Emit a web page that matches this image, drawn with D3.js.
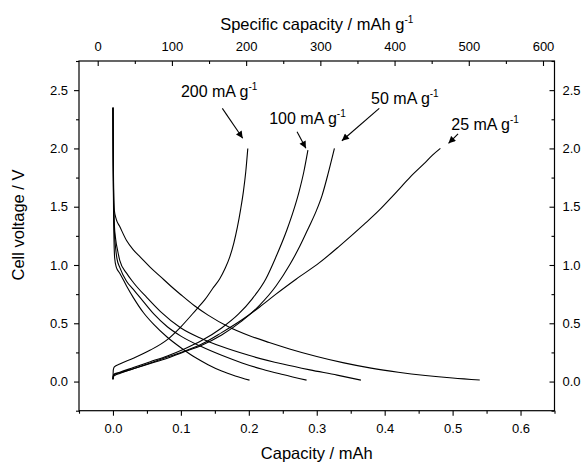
<!DOCTYPE html>
<html><head><meta charset="utf-8">
<script src="https://cdn.jsdelivr.net/npm/d3@7"></script>
<style>
html,body{margin:0;padding:0;background:#fff;}
svg{display:block;font-family:"Liberation Sans",Arial,sans-serif;}
</style></head>
<body>
<svg id="chart" width="582" height="463"></svg>
<script>
// ---- data (Capacity / mAh, Cell voltage / V) ----
const rates = ["200", "100", "50", "25"];

const dis200X = [0, 0.0005, 0.001, 0.0025, 0.005, 0.01, 0.02, 0.03, 0.045, 0.06, 0.08, 0.1, 0.12, 0.14, 0.16, 0.18, 0.201];
const dis200Y = [2.35, 1.7, 1.4, 1.06, 0.98, 0.93, 0.82, 0.72, 0.59, 0.49, 0.38, 0.29, 0.21, 0.145, 0.09, 0.048, 0.012];

const dis100X = [0, 0.0005, 0.001, 0.002, 0.004, 0.006, 0.01, 0.02, 0.03, 0.04, 0.06, 0.08, 0.1, 0.13, 0.16, 0.19, 0.22, 0.25, 0.285];
const dis100Y = [2.35, 1.8, 1.5, 1.3, 1.14, 1.05, 0.98, 0.86, 0.79, 0.72, 0.58, 0.47, 0.39, 0.3, 0.225, 0.16, 0.105, 0.06, 0.012];

const dis50X = [0, 0.0005, 0.001, 0.002, 0.004, 0.007, 0.01, 0.02, 0.03, 0.05, 0.07, 0.1, 0.13, 0.16, 0.2, 0.25, 0.29, 0.33, 0.365];
const dis50Y = [2.35, 1.85, 1.55, 1.35, 1.22, 1.12, 1.04, 0.93, 0.85, 0.72, 0.6, 0.46, 0.37, 0.3, 0.225, 0.15, 0.1, 0.055, 0.012];

const dis25X = [0, 0.0005, 0.001, 0.002, 0.005, 0.01, 0.02, 0.03, 0.04, 0.055, 0.07, 0.085, 0.1, 0.12, 0.14, 0.17, 0.2, 0.23, 0.26, 0.3, 0.34, 0.38, 0.42, 0.46, 0.5, 0.54];
const dis25Y = [2.35, 1.9, 1.65, 1.47, 1.39, 1.33, 1.21, 1.13, 1.07, 0.98, 0.9, 0.82, 0.745, 0.65, 0.57, 0.47, 0.395, 0.335, 0.28, 0.215, 0.16, 0.115, 0.08, 0.052, 0.03, 0.013];

const chg200X = [0, 0.0005, 0.002, 0.01, 0.03, 0.055, 0.08, 0.1, 0.123, 0.135, 0.147, 0.157, 0.165, 0.172, 0.178, 0.183, 0.188, 0.192, 0.1955, 0.1985];
const chg200Y = [0.02, 0.1, 0.125, 0.15, 0.2, 0.27, 0.36, 0.47, 0.62, 0.7, 0.8, 0.88, 0.97, 1.07, 1.19, 1.32, 1.48, 1.63, 1.8, 2.0];

const chg100X = [0, 0.0005, 0.002, 0.01, 0.03, 0.055, 0.08, 0.105, 0.13, 0.16, 0.185, 0.205, 0.225, 0.24, 0.256, 0.266, 0.274, 0.281, 0.287];
const chg100Y = [0.02, 0.05, 0.065, 0.08, 0.12, 0.17, 0.22, 0.28, 0.35, 0.46, 0.58, 0.71, 0.88, 1.07, 1.3, 1.47, 1.63, 1.8, 1.985];

const chg50X = [0, 0.0005, 0.002, 0.01, 0.03, 0.055, 0.08, 0.105, 0.13, 0.16, 0.19, 0.215, 0.24, 0.26, 0.275, 0.288, 0.299, 0.308, 0.317, 0.326];
const chg50Y = [0.02, 0.045, 0.06, 0.075, 0.11, 0.155, 0.2, 0.255, 0.31, 0.4, 0.52, 0.65, 0.82, 1.0, 1.16, 1.32, 1.46, 1.6, 1.79, 2.0];

const chg25X = [0, 0.0005, 0.002, 0.01, 0.03, 0.055, 0.08, 0.105, 0.13, 0.16, 0.19, 0.216, 0.24, 0.27, 0.304, 0.333, 0.37, 0.392, 0.41, 0.425, 0.441, 0.458, 0.47, 0.482];
const chg25Y = [0.02, 0.04, 0.05, 0.07, 0.11, 0.16, 0.21, 0.26, 0.32, 0.42, 0.53, 0.64, 0.75, 0.88, 1.02, 1.16, 1.35, 1.47, 1.58, 1.675, 1.775, 1.87, 1.94, 2.0];

// tick values
const xTicks = [0.0, 0.1, 0.2, 0.3, 0.4, 0.5, 0.6];
const xMinor = [-0.05, 0.05, 0.15, 0.25, 0.35, 0.45, 0.55, 0.65];
const topTicks = [0, 100, 200, 300, 400, 500, 600];
const topMinor = [50, 150, 250, 350, 450, 550];
const yTicks = [0.0, 0.5, 1.0, 1.5, 2.0, 2.5];
const yMinor = [-0.25, 0.25, 0.75, 1.25, 1.75, 2.25, 2.75];

// annotations (data units)
const annoLabels = ["200 mA g", "100 mA g", "50 mA g", "25 mA g"];
const annoTextX = [0.1, 0.23, 0.38, 0.498];
const annoTextY = [2.44, 2.21, 2.38, 2.157];
const arrowX1 = [0.161, 0.271, 0.392, 0.508];
const arrowY1 = [2.344, 2.143, 2.344, 2.124];
const arrowX2 = [0.191, 0.284, 0.337, 0.494];
const arrowY2 = [2.087, 2.001, 2.066, 2.044];

// ---- layout ----
const L = 79, R = 554.5, T = 61, B = 410.7;
const svg = d3.select("#chart");

const x = d3.scaleLinear().domain([-0.05, 0.65]).range([L, R]);
const xTop = d3.scaleLinear().domain([-25.2, 615.5]).range([L, R]);
const y = d3.scaleLinear().domain([-0.25, 2.75]).range([B, T]);

const tickFont = 13;

function styleAxis(g) {
  g.select(".domain").remove();
  g.selectAll("line").attr("stroke", "#000").attr("stroke-width", 1.1);
  g.selectAll("text").attr("font-size", tickFont).attr("fill", "#000")
    .attr("font-family", '"Liberation Sans", Arial, sans-serif');
}

svg.append("g").attr("transform", `translate(0,${B})`)
  .call(d3.axisBottom(x).tickValues(xTicks).tickSize(5).tickPadding(8).tickFormat(d3.format(".1f"))).call(styleAxis);
svg.append("g").attr("transform", `translate(0,${B})`)
  .call(d3.axisBottom(x).tickValues(xMinor).tickSize(3).tickFormat("")).call(styleAxis);
svg.append("g").attr("transform", `translate(0,${T})`)
  .call(d3.axisTop(xTop).tickValues(topTicks).tickSizeInner(-5).tickSizeOuter(0).tickPadding(10).tickFormat(d3.format("d"))).call(styleAxis);
svg.append("g").attr("transform", `translate(0,${T})`)
  .call(d3.axisTop(xTop).tickValues(topMinor).tickSizeInner(-3).tickSizeOuter(0).tickFormat("")).call(styleAxis);
svg.append("g").attr("transform", `translate(${L},0)`)
  .call(d3.axisLeft(y).tickValues(yTicks).tickSize(5).tickPadding(6).tickFormat(d3.format(".1f"))).call(styleAxis);
svg.append("g").attr("transform", `translate(${L},0)`)
  .call(d3.axisLeft(y).tickValues(yMinor).tickSize(3).tickFormat("")).call(styleAxis);
svg.append("g").attr("transform", `translate(${R},0)`)
  .call(d3.axisRight(y).tickValues(yTicks).tickSizeInner(-5).tickSizeOuter(0).tickPadding(8).tickFormat(d3.format(".1f"))).call(styleAxis);
svg.append("g").attr("transform", `translate(${R},0)`)
  .call(d3.axisRight(y).tickValues(yMinor).tickSizeInner(-3).tickSizeOuter(0).tickFormat("")).call(styleAxis);

svg.append("rect").attr("x", L).attr("y", T).attr("width", R - L).attr("height", B - T)
  .attr("fill", "none").attr("stroke", "#000").attr("stroke-width", 1.2);

const seriesX = [dis200X, dis100X, dis50X, dis25X, chg200X, chg100X, chg50X, chg25X];
const seriesY = [dis200Y, dis100Y, dis50Y, dis25Y, chg200Y, chg100Y, chg50Y, chg25Y];
const line = d3.line().x(d => x(d[0])).y(d => y(d[1])).curve(d3.curveMonotoneX);
const plot = svg.append("g");
seriesX.forEach((xs, i) => {
  const pts = xs.map((v, j) => [v, seriesY[i][j]]);
  plot.append("path").datum(pts).attr("d", line)
    .attr("fill", "none").attr("stroke", "#000").attr("stroke-width", 1.1);
});

svg.append("defs").append("marker").attr("id", "ah")
  .attr("viewBox", "0 0 10 10").attr("refX", 10).attr("refY", 5)
  .attr("markerWidth", 8).attr("markerHeight", 7).attr("markerUnits", "userSpaceOnUse")
  .attr("orient", "auto")
  .append("path").attr("d", "M0,0 L10,5 L0,10 Z").attr("fill", "#000");

annoLabels.forEach((lab, i) => {
  svg.append("line")
    .attr("x1", x(arrowX1[i])).attr("y1", y(arrowY1[i]))
    .attr("x2", x(arrowX2[i])).attr("y2", y(arrowY2[i]))
    .attr("stroke", "#000").attr("stroke-width", 1.1).attr("marker-end", "url(#ah)");
  const t = svg.append("text").attr("x", x(annoTextX[i])).attr("y", y(annoTextY[i]))
    .attr("font-size", 16).attr("fill", "#000");
  t.append("tspan").text(lab);
  t.append("tspan").attr("font-size", 10).attr("dy", -7).text("-1");
});

svg.append("text").attr("x", (L + R) / 2).attr("y", 459).attr("text-anchor", "middle")
  .attr("font-size", 16.5).text("Capacity / mAh");

const tt = svg.append("text").attr("x", (L + R) / 2).attr("y", 30).attr("text-anchor", "middle")
  .attr("font-size", 16.5);
tt.append("tspan").text("Specific capacity / mAh g");
tt.append("tspan").attr("font-size", 10).attr("dy", -7).text("-1");

svg.append("text").attr("transform", `translate(23.5,225) rotate(-90)`).attr("text-anchor", "middle")
  .attr("font-size", 16.5).text("Cell voltage / V");
</script>
</body></html>
